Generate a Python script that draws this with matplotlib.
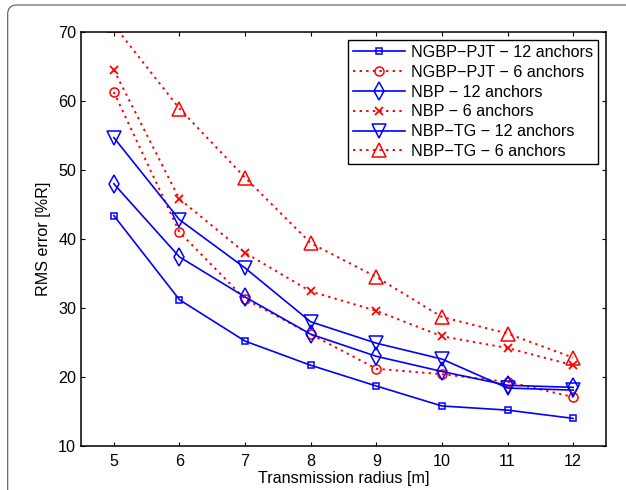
import matplotlib
matplotlib.use('Agg')
import matplotlib.pyplot as plt
from matplotlib.patches import FancyBboxPatch

plt.rcParams['font.family'] = ['Liberation Sans', 'DejaVu Sans']
plt.rcParams['font.size'] = 11.6

# transmission radius [m]
radius = [5, 6, 7, 8, 9, 10, 11, 12]

# RMS error [%R]
ngbp_pjt_12 = [43.4, 31.2, 25.2, 21.7, 18.7, 15.8, 15.2, 14.0]
ngbp_pjt_6 = [61.3, 41.0, 31.3, 26.2, 21.2, 20.4, 19.3, 17.1]
nbp_12 = [48.0, 37.4, 31.6, 26.2, 23.0, 20.8, 18.8, 18.5]
nbp_6 = [64.5, 45.8, 38.0, 32.4, 29.6, 25.9, 24.2, 21.7]
nbp_tg_12 = [54.7, 42.8, 35.8, 28.0, 24.9, 22.6, 18.4, 18.1]
nbp_tg_6 = [71.0, 58.9, 48.9, 39.4, 34.5, 28.7, 26.3, 22.8]

labels = ['NGBP\u2212PJT \u2212 12 anchors', 'NGBP\u2212PJT \u2212 6 anchors',
          'NBP \u2212 12 anchors', 'NBP \u2212 6 anchors',
          'NBP\u2212TG \u2212 12 anchors', 'NBP\u2212TG \u2212 6 anchors']

fig = plt.figure(figsize=(6.26, 4.9), dpi=100)
ax = fig.add_axes([81/626, 1-446/490, (606-81)/626, (446-32)/490])

blue = '#0000ff'
red = '#ff0000'
dot = (0, (1.2, 2.2))

ax.plot(radius, ngbp_pjt_12, color=blue, ls='-', lw=1.2, marker='s', ms=5,
        mfc='none', mew=1.1, label=labels[0])
ax.plot(radius, ngbp_pjt_6, color=red, ls=dot, lw=1.4, marker='o', ms=6.5,
        mfc='none', mew=1.1, label=labels[1])
ax.plot(radius, nbp_12, color=blue, ls='-', lw=1.2, marker='d', ms=9,
        mfc='none', mew=1.1, label=labels[2])
ax.plot(radius, nbp_6, color=red, ls=dot, lw=1.4, marker='x', ms=6,
        mfc='none', mew=1.3, label=labels[3])
ax.plot(radius, nbp_tg_12, color=blue, ls='-', lw=1.2, marker='v', ms=9.5,
        mfc='none', mew=1.1, label=labels[4])
ax.plot(radius, nbp_tg_6, color=red, ls=dot, lw=1.4, marker='^', ms=9.5,
        mfc='none', mew=1.1, label=labels[5])

ax.set_xlim(4.5, 12.5)
ax.set_ylim(10, 70)
ax.set_xticks(radius)
ax.set_yticks(range(10, 71, 10))
ax.tick_params(direction='in', length=3.2, width=0.8, top=True, right=True)
ax.tick_params(axis='x', pad=6)
for s in ax.spines.values():
    s.set_linewidth(1.1)

ax.set_xlabel('Transmission radius [m]', labelpad=1)
ax.set_ylabel('RMS error [%R]', labelpad=5)

leg = ax.legend(loc='upper right', fancybox=False, framealpha=1,
                edgecolor='black', handlelength=3.2, handletextpad=0.4,
                labelspacing=0.3, borderpad=0.3, borderaxespad=0.5)
leg.get_frame().set_linewidth(1.0)

# rounded frame around the picture
frame = FancyBboxPatch((7.7, -30), 700, 485 + 30, boxstyle='round,pad=0,rounding_size=9',
                       transform=None, fill=False, edgecolor='#555555', lw=0.8)
fig.patches.append(frame)

fig.savefig('out.png', dpi=100)
